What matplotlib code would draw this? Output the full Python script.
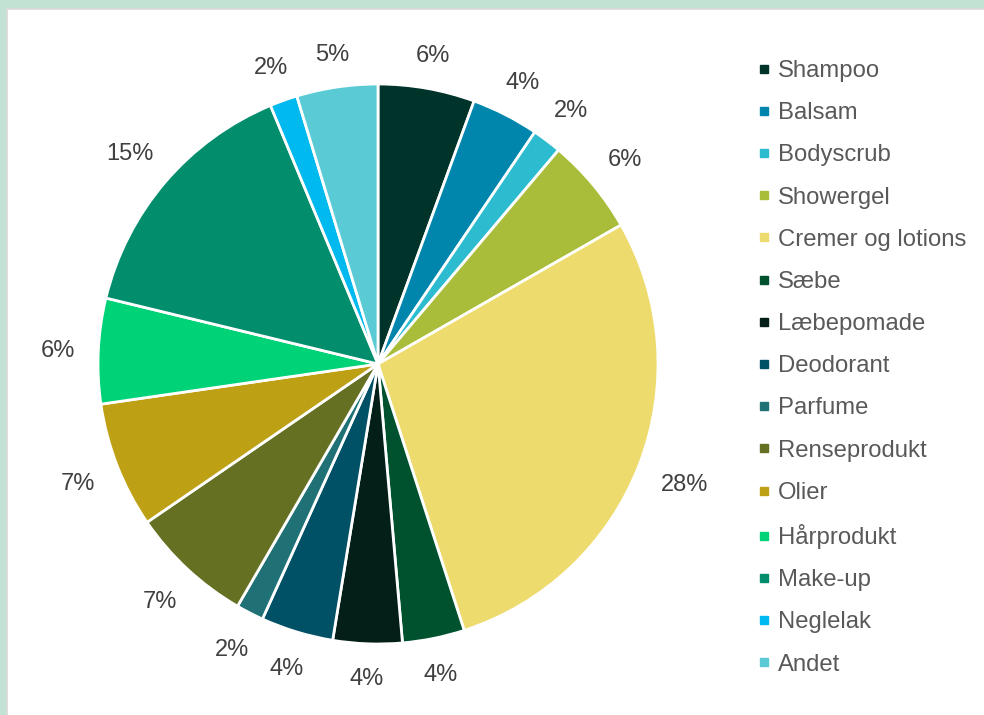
import matplotlib
matplotlib.use("Agg")
import numpy as np
import matplotlib.pyplot as plt
from matplotlib.patches import Rectangle
from matplotlib.lines import Line2D

plt.rcParams["font.family"] = ["Liberation Sans", "DejaVu Sans"]

# Andel af produkter (læst af figuren, i procent)
categories = ["Shampoo", "Balsam", "Bodyscrub", "Showergel", "Cremer og lotions",
              "Sæbe", "Læbepomade", "Deodorant", "Parfume", "Renseprodukt",
              "Olier", "Hårprodukt", "Make-up", "Neglelak", "Andet"]
shares = [5.6, 3.9, 1.7, 5.6, 28.4, 3.6, 4.0, 4.2, 1.6, 7.1, 7.3, 6.1, 15.0, 1.6, 4.7]
colors = ["#00332a", "#0086ad", "#2dbccf", "#aabd3b", "#eedb6e",
          "#00522f", "#031f18", "#005066", "#1f7175", "#657022",
          "#bea015", "#00d377", "#028d6d", "#00b9ee", "#5acbd5"]

W, H = 984, 715
fig = plt.figure(figsize=(W / 100, H / 100), dpi=100, facecolor="#c2e2d3")

# hvid tegneflade med tynd grå kant
fig.patches.append(Rectangle((7 / W, -0.01), 1.0, 1 - 9 / H + 0.01,
                             transform=fig.transFigure, facecolor="white",
                             edgecolor="#d9d9d9", linewidth=1.2, zorder=-5))

# lagkage: centrum (378, 364) px, radius 280 px
cx, cy, R, half = 378, 364, 280, 300
ax = fig.add_axes([(cx - half) / W, (H - cy - half) / H, 2 * half / W, 2 * half / H])
ax.set_zorder(2)
wedges, _, autotexts = ax.pie(
    shares, colors=colors, startangle=90, counterclock=False,
    autopct=lambda p: f"{round(p)}%", pctdistance=1.15,
    wedgeprops=dict(edgecolor="white", linewidth=2.0),
    textprops=dict(fontsize=17, color="#404040"))
lim = half / R
ax.set_xlim(-lim, lim)
ax.set_ylim(-lim, lim)
ax.set_aspect("equal")
ax.axis("off")

# etiketter uden for kanten: fast afstand fra kanten til tekstboksen
renderer = fig.canvas.get_renderer()
gap = 23
for w, t in zip(wedges, autotexts):
    t.set_clip_on(False)
    t.set_verticalalignment("center_baseline")
    a = np.deg2rad((w.theta1 + w.theta2) / 2)
    ux, uy = np.cos(a), np.sin(a)
    bb = t.get_window_extent(renderer)
    hw, hh = bb.width / 2, 9
    r = R + gap + hw * abs(ux) + hh * abs(uy)
    t.set_position((r * ux / R, r * uy / R))

handles = [Line2D([], [], linestyle="none", marker="s", markersize=5.5,
                  markerfacecolor=c, markeredgecolor=c) for c in colors]
leg = fig.legend(handles, categories, loc="upper left",
                 bbox_to_anchor=(758 / W, 1 - 60 / H), frameon=False,
                 fontsize=17.2, labelcolor="#595959", borderpad=0, borderaxespad=0,
                 handlelength=0.5, handletextpad=0.35, labelspacing=0.845)
leg.set_zorder(3)

fig.savefig("out.png", dpi=100, facecolor=fig.get_facecolor())
